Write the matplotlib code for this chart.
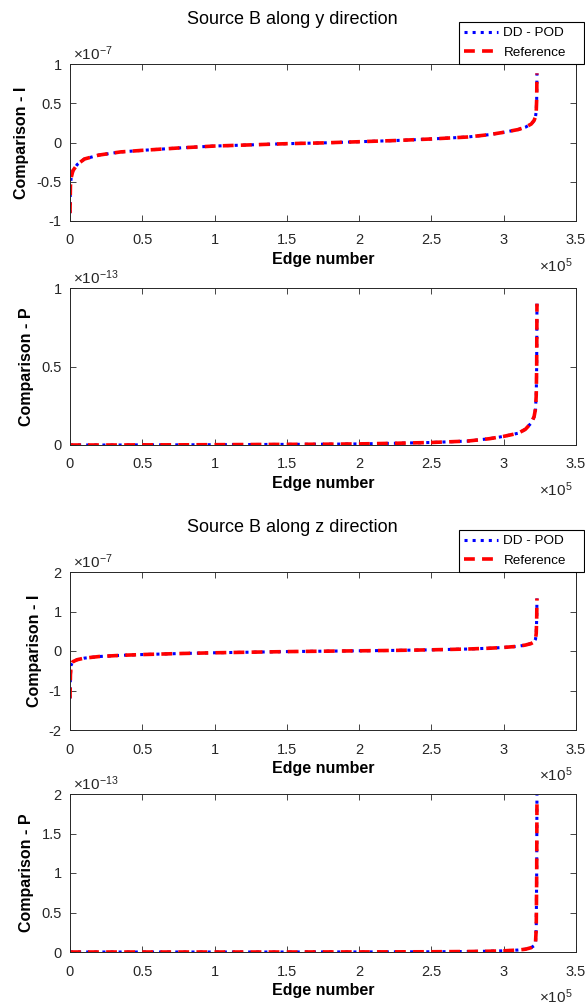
import numpy as np
import matplotlib
matplotlib.use("Agg")
import matplotlib.pyplot as plt
from matplotlib.ticker import FuncFormatter, MultipleLocator

plt.rcParams['font.family'] = ['Liberation Sans', 'DejaVu Sans']
plt.rcParams['mathtext.fontset'] = 'custom'
plt.rcParams['mathtext.rm'] = 'Liberation Sans'
plt.rcParams['mathtext.it'] = 'Liberation Sans:italic'

# edge index (values sorted)
edges = [0, 300, 800, 2000, 5000, 10000, 20000, 35000, 50000, 75000,
         100000, 125000, 150000, 175000, 200000, 225000, 250000, 275000,
         290000, 300000, 310000, 315000, 319000, 321000, 322000, 322500,
         322800, 323000]

# Source B along y, current comparison (x 1e-7)
i_y = [-0.90, -0.55, -0.45, -0.36, -0.28, -0.21, -0.16, -0.12, -0.10, -0.07,
       -0.045, -0.03, -0.015, -0.005, 0.01, 0.025, 0.045, 0.07,
       0.10, 0.13, 0.165, 0.195, 0.235, 0.28, 0.33, 0.40,
       0.55, 0.88]
# Source B along y, potential comparison (x 1e-13)
p_y = [0, 0, 0, 0, 0, 0, 0, 0, 0.001, 0.001,
       0.002, 0.003, 0.004, 0.005, 0.007, 0.011, 0.016, 0.025,
       0.04, 0.055, 0.075, 0.10, 0.14, 0.18, 0.23, 0.32,
       0.50, 0.90]
# Source B along z, current comparison (x 1e-7)
i_z = [-1.20, -0.60, -0.35, -0.27, -0.22, -0.18, -0.14, -0.11, -0.09, -0.065,
       -0.045, -0.03, -0.015, -0.005, 0.005, 0.015, 0.03, 0.05,
       0.07, 0.09, 0.12, 0.15, 0.19, 0.23, 0.30, 0.45,
       0.80, 1.33]
# Source B along z, potential comparison (x 1e-13)
p_z_pod = [0, 0, 0, 0, 0, 0, 0, 0, 0, 0,
           0, 0, 0, 0.001, 0.001, 0.002, 0.003, 0.006,
           0.01, 0.015, 0.025, 0.035, 0.055, 0.08, 0.12, 0.30,
           1.00, 2.00]
p_z_ref = [0, 0, 0, 0, 0, 0, 0, 0, 0, 0,
           0, 0, 0, 0.001, 0.001, 0.002, 0.003, 0.006,
           0.01, 0.015, 0.025, 0.035, 0.055, 0.08, 0.12, 0.30,
           0.95, 1.90]

titles = ["Source B along y direction", "Source B along z direction"]
panels = [
    # (pod, ref, ylabel, ylim, ystep, exponent)
    (i_y, i_y, "Comparison - I", (-1, 1), 0.5, -7),
    (p_y, p_y, "Comparison - P", (0, 1), 0.5, -13),
    (i_z, i_z, "Comparison - I", (-2, 2), 1, -7),
    (p_z_pod, p_z_ref, "Comparison - P", (0, 2), 0.5, -13),
]

W, H = 585, 1008
boxes = [(70, 64, 576, 221), (70, 288, 576, 445),
         (70, 572, 576, 730), (70, 794, 576, 952)]
dark = '#262626'

fig = plt.figure(figsize=(W / 100, H / 100), dpi=100)

for k, (pod, ref, ylab, ylim, ystep, expo) in enumerate(panels):
    l, t, r, b = boxes[k]
    ax = fig.add_axes([l / W, 1 - b / H, (r - l) / W, (b - t) / H])
    hp, = ax.plot(edges, pod, color='blue', ls=':', lw=2.2, label='DD - POD')
    hr, = ax.plot(edges, ref, color='red', ls='--', lw=2.6, dashes=(3, 2),
                  label='Reference')
    ax.set_xlim(0, 350000)
    ax.set_ylim(*ylim)
    ax.xaxis.set_major_locator(MultipleLocator(50000))
    ax.xaxis.set_major_formatter(FuncFormatter(lambda v, p: '%g' % (v / 1e5)))
    ax.yaxis.set_major_locator(MultipleLocator(ystep))
    ax.yaxis.set_major_formatter(FuncFormatter(lambda v, p: '%g' % v))
    ax.tick_params(direction='in', top=True, right=True, length=4, width=0.6,
                   color=dark, labelcolor=dark, labelsize=10.5)
    ax.tick_params(axis='x', pad=9)
    ax.tick_params(axis='y', pad=6)
    for s in ax.spines.values():
        s.set_color(dark)
        s.set_linewidth(0.7)
    ax.set_xlabel('Edge number', fontsize=11.5, fontweight='bold', labelpad=3)
    ax.set_ylabel(ylab, fontsize=11.5, fontweight='bold', labelpad=5)
    ax.text(0.005, 1.005, r'$\times10^{%d}$' % expo, transform=ax.transAxes,
            ha='left', va='bottom', fontsize=11, color=dark)
    ax.text(0.994, -0.285, r'$\times10^{5}$', transform=ax.transAxes,
            ha='right', va='center', fontsize=11, color=dark)

    if k % 2 == 0:
        fig.text(292 / W, 1 - (t - 44) / H, titles[k // 2], ha='center',
                 va='center', fontsize=13)
        leg = fig.legend(handles=[hp, hr], loc='lower left',
                         bbox_to_anchor=(459 / W, 1 - t / H, 125 / W, 0),
                         mode='expand', bbox_transform=fig.transFigure,
                         borderaxespad=0, fontsize=9.7, handlelength=2.5,
                         handletextpad=0.4, borderpad=0.4, labelspacing=0.5,
                         fancybox=False, framealpha=1, edgecolor='black')
        leg.get_frame().set_linewidth(0.8)

fig.savefig('out.png', dpi=100)
